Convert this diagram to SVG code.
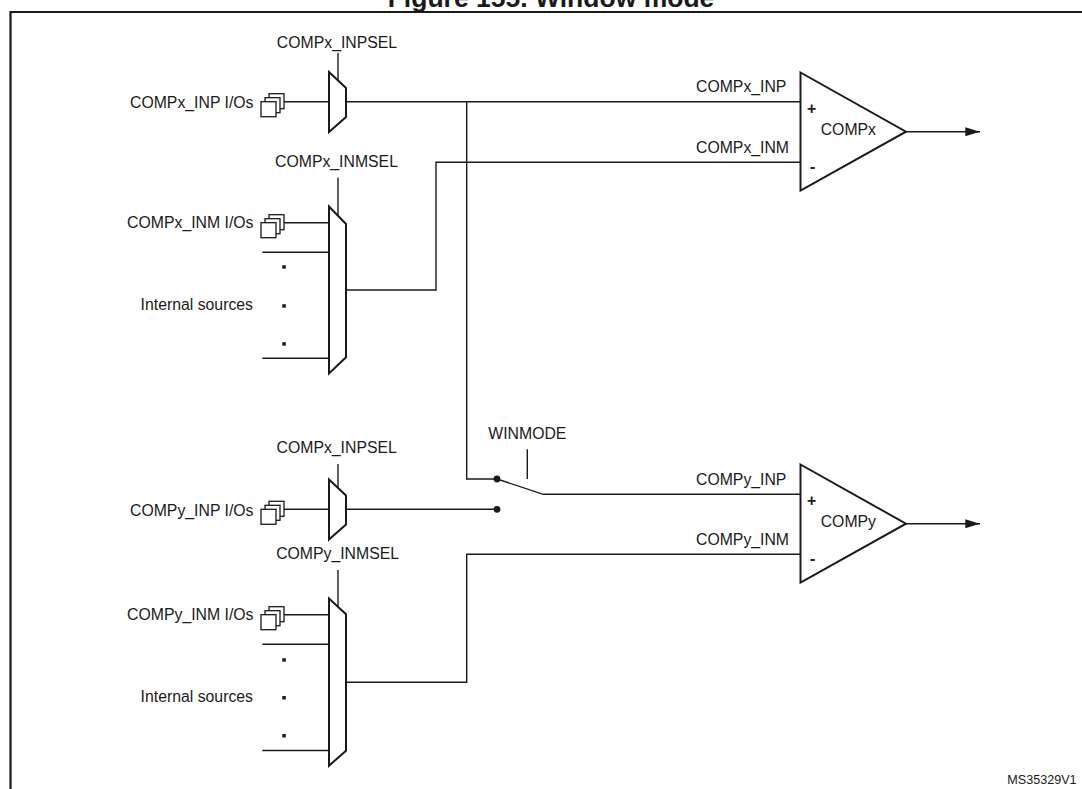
<svg xmlns="http://www.w3.org/2000/svg" width="1082" height="789" viewBox="0 0 1082 789">
<style>
text{font-family:"Liberation Sans",Arial,sans-serif;font-size:15.8px;fill:#1a1a1a}
.title{font-weight:bold;font-size:26.5px}
.small{font-size:12.6px}
.w{fill:none;stroke:#1a1a1a;stroke-width:1.4}
.s{fill:#fff;stroke:#1a1a1a;stroke-width:2}
.ic{fill:#fff;stroke:#1a1a1a;stroke-width:1.3}
.d{fill:#1a1a1a}
</style>
<defs>
<g id="io">
<rect class="ic" x="-15" y="-8" width="15" height="15"/>
<rect class="ic" x="-19" y="-4" width="15" height="15"/>
<rect class="ic" x="-23" y="0" width="15" height="15"/>
</g>
<marker id="arr" markerUnits="userSpaceOnUse" markerWidth="16" markerHeight="12" refX="14.7" refY="5" orient="auto">
<path d="M0,0.5 L14.7,5 L0,9.5 Z" fill="#1a1a1a"/>
</marker>
</defs>
<rect width="1082" height="789" fill="#fff"/>
<text class="title" x="551" y="7" text-anchor="middle">Figure 155. Window mode</text>
<path d="M10.5,800 V12 H1090" fill="none" stroke="#1a1a1a" stroke-width="2.2"/>

<g id="connectors">
<path class="w" d="M284,101.7 H329"/>
<path class="w" d="M346,101.7 H800.5"/>
<path class="w" d="M466.7,101.7 V479 H497"/>
<path class="w" d="M338,53 V80.5"/>
<path class="w" d="M338,177.7 V216"/>
<path class="w" d="M284,222.7 H329"/>
<path class="w" d="M262.3,252.3 H329"/>
<path class="w" d="M262.3,358.3 H329"/>
<path class="w" d="M346,290 H436 V162.3 H800.5"/>
<path class="w" d="M906,131.7 H980" marker-end="url(#arr)"/>
<path class="w" d="M497,479 L543.3,494.3 H800.5"/>
<path class="w" d="M527.3,449.3 V479"/>
<path class="w" d="M284,509.3 H329"/>
<path class="w" d="M346,509.3 H497"/>
<path class="w" d="M338,464 V488"/>
<path class="w" d="M338,570 V608"/>
<path class="w" d="M284,614.7 H329"/>
<path class="w" d="M262.3,644.3 H329"/>
<path class="w" d="M262.3,750.5 H329"/>
<path class="w" d="M346,682.3 H466.7 V554.3 H800.5"/>
<path class="w" d="M906,523.7 H980" marker-end="url(#arr)"/>
</g>

<g id="compx_inp_io">
<use href="#io" x="284" y="101.7"/>
<text x="253.5" y="108.3" text-anchor="end">COMPx_INP I/Os</text>
</g>
<g id="compx_inpsel_mux">
<polygon class="s" points="329,72 346,88 346,117 329,132"/>
<text x="337" y="48" text-anchor="middle">COMPx_INPSEL</text>
</g>
<g id="compx_inm_io">
<use href="#io" x="284" y="222.7"/>
<text x="253.5" y="227.5" text-anchor="end">COMPx_INM I/Os</text>
</g>
<g id="compx_inmsel_mux">
<polygon class="s" points="329,206.5 346,224 346,357.3 329,373.5"/>
<text x="336.5" y="167.3" text-anchor="middle">COMPx_INMSEL</text>
</g>
<g id="compx_internal">
<text x="253" y="310" text-anchor="end">Internal sources</text>
<rect class="d" x="282.3" y="265.2" width="3.5" height="3.5"/>
<rect class="d" x="282.3" y="304.2" width="3.5" height="3.5"/>
<rect class="d" x="282.3" y="342.2" width="3.5" height="3.5"/>
</g>
<g id="compx">
<polygon class="s" points="800.5,72.5 906,131.7 800.5,190.5"/>
<text x="820.7" y="135">COMPx</text>
<text x="811.7" y="113.5" text-anchor="middle" font-weight="bold" font-size="14">+</text>
<text x="812.7" y="172" text-anchor="middle" font-weight="bold" font-size="14">-</text>
<text x="696" y="92.3">COMPx_INP</text>
<text x="696" y="152.7">COMPx_INM</text>
</g>

<g id="winmode_switch">
<circle class="d" cx="497" cy="479" r="3.4"/>
<circle class="d" cx="497" cy="509.3" r="3.4"/>
<text x="488.3" y="439">WINMODE</text>
</g>

<g id="compy_inp_io">
<use href="#io" x="284" y="509.3"/>
<text x="253.5" y="515.8" text-anchor="end">COMPy_INP I/Os</text>
</g>
<g id="compy_inpsel_mux">
<polygon class="s" points="329,479.5 346,495.5 346,524.5 329,539.5"/>
<text x="336.7" y="453.3" text-anchor="middle">COMPx_INPSEL</text>
</g>
<g id="compy_inm_io">
<use href="#io" x="284" y="614.7"/>
<text x="253.5" y="619.5" text-anchor="end">COMPy_INM I/Os</text>
</g>
<g id="compy_inmsel_mux">
<polygon class="s" points="329,598.5 346,614.3 346,750.7 329,765.7"/>
<text x="337.6" y="559" text-anchor="middle">COMPy_INMSEL</text>
</g>
<g id="compy_internal">
<text x="253" y="702" text-anchor="end">Internal sources</text>
<rect class="d" x="282.3" y="658.2" width="3.5" height="3.5"/>
<rect class="d" x="282.3" y="696" width="3.5" height="3.5"/>
<rect class="d" x="282.3" y="734" width="3.5" height="3.5"/>
</g>
<g id="compy">
<polygon class="s" points="800.5,464.5 906,523.7 800.5,582.5"/>
<text x="820.7" y="527">COMPy</text>
<text x="811.7" y="505.5" text-anchor="middle" font-weight="bold" font-size="14">+</text>
<text x="812.7" y="564" text-anchor="middle" font-weight="bold" font-size="14">-</text>
<text x="696" y="484.5">COMPy_INP</text>
<text x="696" y="544.7">COMPy_INM</text>
</g>

<text class="small" x="1007.3" y="784.3">MS35329V1</text>
</svg>
